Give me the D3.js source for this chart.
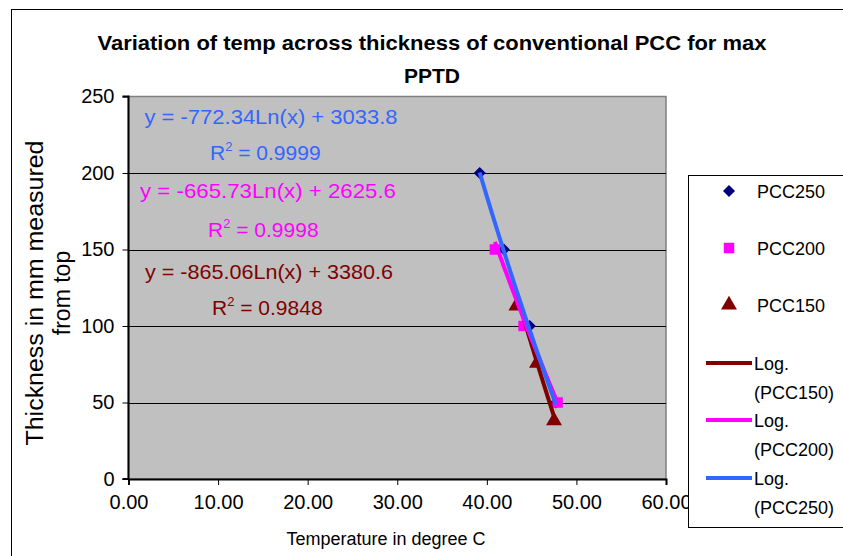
<!DOCTYPE html>
<html>
<head>
<meta charset="utf-8">
<script src="https://cdn.jsdelivr.net/npm/d3@7/dist/d3.min.js"></script>
<style>
  html, body { margin: 0; padding: 0; background: #fff; }
  svg { display: block; font-family: "Liberation Sans", Arial, sans-serif; }
</style>
</head>
<body>
<svg id="chart" width="843" height="556"></svg>
<script>
// Temperature (°C) vs. depth (mm from top) for three slab thicknesses
const pcc250Temp = [39.2, 41.9, 44.8, 47.7];
const pcc250Depth = [200, 150, 100, 50];
const pcc200Temp = [40.9, 44.1, 47.9];
const pcc200Depth = [150, 100, 50];
const pcc150Temp = [43.3, 45.6, 47.5];
const pcc150Depth = [112.5, 75, 37.5];

// Logarithmic trend lines y = a·ln(x) + b
const fitA = { PCC250: -772.34, PCC200: -665.73, PCC150: -865.06 };
const fitB = { PCC250: 3033.8, PCC200: 2625.6, PCC150: 3380.6 };
const fitR2 = { PCC250: "0.9999", PCC200: "0.9998", PCC150: "0.9848" };

const xTicks = [0, 10, 20, 30, 40, 50, 60];
const yTicks = [0, 50, 100, 150, 200, 250];

const colors = { PCC250: "#000080", PCC200: "#FF00FF", PCC150: "#800000" };
const trendColors = { PCC250: "#3366FF", PCC200: "#FF00FF", PCC150: "#800000" };

const svg = d3.select("#chart");
const W = 843, H = 556;

// outer chart frame
svg.append("rect").attr("x", 11.5).attr("y", 9.5).attr("width", W + 20).attr("height", H + 20)
  .attr("fill", "#fff").attr("stroke", "#000").attr("stroke-width", 1);

const plot = { left: 128.5, right: 666, top: 96.5, bottom: 479 };
const x = d3.scaleLinear().domain([0, 60]).range([plot.left, plot.right]);
const y = d3.scaleLinear().domain([0, 250]).range([plot.bottom, plot.top]);

// plot background
svg.append("rect").attr("x", plot.left).attr("y", plot.top)
  .attr("width", plot.right - plot.left).attr("height", plot.bottom - plot.top)
  .attr("fill", "#C0C0C0").attr("stroke", "#808080").attr("stroke-width", 1.5);

// horizontal gridlines
svg.append("g").selectAll("line").data(yTicks.filter(v => v > 0 && v < 250)).join("line")
  .attr("x1", plot.left).attr("x2", plot.right)
  .attr("y1", d => Math.round(y(d)) + 0.5).attr("y2", d => Math.round(y(d)) + 0.5)
  .attr("stroke", "#000").attr("stroke-width", 1);

// axes
const xAxis = d3.axisBottom(x).tickValues(xTicks).tickFormat(d3.format(".2f")).tickSize(6).tickPadding(10);
const yAxis = d3.axisLeft(y).tickValues(yTicks).tickFormat(d3.format("d")).tickSize(6).tickPadding(8);

const gx = svg.append("g").attr("transform", `translate(0,${plot.bottom})`).call(xAxis);
const gy = svg.append("g").attr("transform", `translate(${plot.left},0)`).call(yAxis);
[gx, gy].forEach(g => {
  g.select(".domain").attr("stroke", "#000").attr("stroke-width", 2);
  g.selectAll(".tick line").attr("stroke", "#000").attr("stroke-width", 1);
  g.selectAll(".tick text").attr("fill", "#000").style("font-size", "20px")
    .style("font-family", "'Liberation Sans', Arial, sans-serif");
});
gy.select(".domain").attr("d", `M-6,${plot.top}H0V${plot.bottom}H-6`);

// trend lines (drawn across each series' temperature range)
function trendPoints(key, temps) {
  const lo = d3.min(temps), hi = d3.max(temps);
  const n = 40;
  return d3.range(n + 1).map(i => {
    const t = lo + (hi - lo) * i / n;
    return [t, fitA[key] * Math.log(t) + fitB[key]];
  });
}
const line = d3.line().x(d => x(d[0])).y(d => y(d[1]));

// markers: diamond is a square turned 45°
const diamond = d3.symbol().type(d3.symbolSquare).size(72);
const square = d3.symbol().type(d3.symbolSquare).size(110);
const triangle = d3.symbol().type(d3.symbolTriangle).size(110);

const markers = svg.append("g");
markers.selectAll(".m250").data(d3.zip(pcc250Temp, pcc250Depth)).join("path")
  .attr("transform", d => `translate(${x(d[0])},${y(d[1])}) rotate(45)`).attr("d", diamond).attr("fill", colors.PCC250);
markers.selectAll(".m200").data(d3.zip(pcc200Temp, pcc200Depth)).join("path")
  .attr("transform", d => `translate(${x(d[0])},${y(d[1])})`).attr("d", square).attr("fill", colors.PCC200);
markers.selectAll(".m150").data(d3.zip(pcc150Temp, pcc150Depth)).join("path")
  .attr("transform", d => `translate(${x(d[0])},${y(d[1]) - 1})`).attr("d", triangle).attr("fill", colors.PCC150);

const trends = svg.append("g").attr("fill", "none").attr("stroke-width", 4);
trends.append("path").attr("d", line(trendPoints("PCC150", pcc150Temp))).attr("stroke", trendColors.PCC150);
trends.append("path").attr("d", line(trendPoints("PCC200", pcc200Temp))).attr("stroke", trendColors.PCC200);
trends.append("path").attr("d", line(trendPoints("PCC250", pcc250Temp))).attr("stroke", trendColors.PCC250);

// equation labels
const eqs = [
  { key: "PCC250", y1: 124, y2: 160, x1: 271, x2: 271, w1: 253, w2: 122 },
  { key: "PCC200", y1: 198, y2: 237, x1: 268, x2: 268, w1: 256, w2: 120 },
  { key: "PCC150", y1: 279, y2: 315, x1: 269, x2: 271, w1: 248, w2: 118 }
];
const eqG = svg.append("g").style("font-size", "21px");
eqs.forEach(e => {
  const a = fitA[e.key].toFixed(2), b = fitB[e.key];
  eqG.append("text").attr("x", e.x1).attr("y", e.y1).attr("text-anchor", "middle")
    .attr("fill", trendColors[e.key])
    .attr("textLength", e.w1).attr("lengthAdjust", "spacingAndGlyphs")
    .text(`y = ${a}Ln(x) + ${b}`);
  const t = eqG.append("text").attr("x", e.x2 - e.w2 / 2).attr("y", e.y2)
    .attr("fill", trendColors[e.key]);
  t.append("tspan").text("R");
  t.append("tspan").attr("dy", -9).style("font-size", "13px").text("2");
  t.append("tspan").attr("dy", 9).text(` = ${fitR2[e.key]}`);
});

// title
svg.append("text").attr("x", 432).attr("y", 50).attr("text-anchor", "middle")
  .style("font-size", "21px").style("font-weight", "bold")
  .attr("textLength", 669).attr("lengthAdjust", "spacingAndGlyphs")
  .text("Variation of temp across thickness of conventional PCC for max");
svg.append("text").attr("x", 432).attr("y", 83).attr("text-anchor", "middle")
  .style("font-size", "21px").style("font-weight", "bold")
  .text("PPTD");

// axis titles
svg.append("text").attr("x", 386).attr("y", 545).attr("text-anchor", "middle")
  .style("font-size", "18px").text("Temperature in degree C");
const yt = svg.append("text").attr("transform", "translate(43,293) rotate(-90)")
  .attr("text-anchor", "middle").style("font-size", "23px");
yt.append("tspan").attr("x", 0).attr("y", 0).attr("textLength", 305).attr("lengthAdjust", "spacingAndGlyphs")
  .text("Thickness in mm measured");
yt.append("tspan").attr("x", 0).attr("y", 27).text("from top");

// legend
const lg = svg.append("g");
lg.append("rect").attr("x", 688.5).attr("y", 175.5).attr("width", 170).attr("height", 352)
  .attr("fill", "#fff").attr("stroke", "#000").attr("stroke-width", 1);
const legendMarkers = [
  { label: "PCC250", sym: diamond, rot: 45, color: colors.PCC250, y: 191 },
  { label: "PCC200", sym: square, rot: 0, color: colors.PCC200, y: 248 },
  { label: "PCC150", sym: triangle, rot: 0, color: colors.PCC150, y: 305 }
];
legendMarkers.forEach(m => {
  lg.append("path").attr("transform", `translate(729,${m.y}) rotate(${m.rot})`).attr("d", m.sym).attr("fill", m.color);
  lg.append("text").attr("x", 757).attr("y", m.y + 7).style("font-size", "18px").text(m.label);
});
const legendLines = [
  { label: "(PCC150)", color: trendColors.PCC150, y: 363 },
  { label: "(PCC200)", color: trendColors.PCC200, y: 420 },
  { label: "(PCC250)", color: trendColors.PCC250, y: 478 }
];
legendLines.forEach(l => {
  lg.append("line").attr("x1", 706).attr("x2", 752).attr("y1", l.y).attr("y2", l.y)
    .attr("stroke", l.color).attr("stroke-width", 4);
  lg.append("text").attr("x", 754).attr("y", l.y + 7).style("font-size", "18px").text("Log.");
  lg.append("text").attr("x", 754).attr("y", l.y + 36).style("font-size", "18px").text(l.label);
});
</script>
</body>
</html>
